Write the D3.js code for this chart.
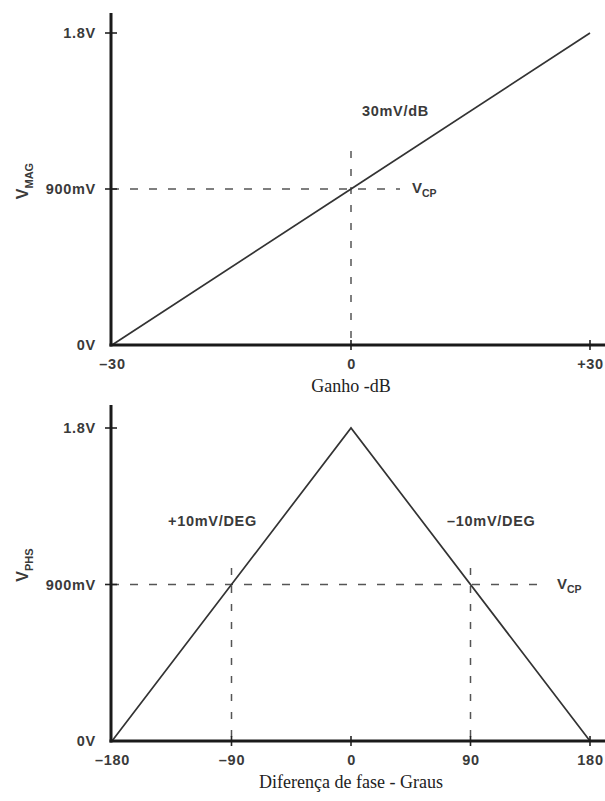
<!DOCTYPE html>
<html>
<head>
<meta charset="utf-8">
<script src="https://cdn.jsdelivr.net/npm/d3@7"></script>
<style>
  html, body { margin: 0; padding: 0; background: #fff; }
  svg { display: block; }
  .tick-label { font-family: "Liberation Sans", Arial, sans-serif; font-weight: bold; font-size: 14.5px; fill: #3a3a3a; letter-spacing: 0.7px; }
  .title { font-family: "Liberation Serif", "DejaVu Serif", serif; font-size: 18px; fill: #222; }
</style>
</head>
<body>
<svg id="chart" width="605" height="801"></svg>
<script>
// Magnitude output vs gain
const gainDb = [-30, 0, 30];
const vmag = [0, 0.9, 1.8];
// Phase output vs phase difference
const phaseDeg = [-180, 0, 180];
const vphs = [0, 1.8, 0];

const vcp = 0.9;
const gainCross = [0];
const phaseCross = [-90, 90];

const voltTicks = [0, 0.9, 1.8];
const voltTickLabels = ["0V", "900mV", "1.8V"];
const gainTicks = [-30, 0, 30];
const gainTickLabels = ["\u201330", "0", "+30"];
const phaseTicks = [-180, -90, 0, 90, 180];
const phaseTickLabels = ["\u2013180", "\u201390", "0", "90", "180"];

const svg = d3.select("#chart");

function panel(opt) {
  const g = svg.append("g");
  const x = d3.scaleLinear().domain(opt.xDomain).range([112, 590]);
  const y = d3.scaleLinear().domain([0, 1.8]).range([opt.yBottom, opt.yTop]);
  const axisX = 111;

  // dashed reference lines at Vcp
  g.append("line")
    .attr("x1", axisX).attr("x2", opt.hDashEnd)
    .attr("y1", y(vcp)).attr("y2", y(vcp))
    .attr("stroke", "#555").attr("stroke-width", 1.5)
    .attr("stroke-dasharray", "8,11");
  opt.cross.forEach(c => {
    g.append("line")
      .attr("x1", x(c)).attr("x2", x(c))
      .attr("y1", opt.vDashTop).attr("y2", y(0))
      .attr("stroke", "#555").attr("stroke-width", 1.5)
      .attr("stroke-dasharray", "7,11");
  });

  // transfer characteristic
  const line = d3.line().x(d => x(d[0])).y(d => y(d[1]));
  g.append("path")
    .datum(d3.zip(opt.xs, opt.ys))
    .attr("d", line)
    .attr("fill", "none")
    .attr("stroke", "#333")
    .attr("stroke-width", 1.7);

  // y axis: labels from d3 axis, cross ticks drawn at scale positions
  const ya = g.append("g").attr("transform", `translate(${axisX},0)`)
    .call(d3.axisLeft(y).tickValues(voltTicks)
      .tickFormat((d, i) => voltTickLabels[i]).tickSize(0).tickPadding(15));
  ya.select(".domain").remove();
  ya.selectAll("text").attr("class", "tick-label").attr("font-size", null).attr("font-family", null);
  voltTicks.filter(v => v > 0).forEach(v => {
    g.append("line").attr("x1", axisX - 6).attr("x2", axisX + 6)
      .attr("y1", y(v)).attr("y2", y(v)).attr("stroke", "#222").attr("stroke-width", 1.6);
  });

  // x axis
  const xa = g.append("g").attr("transform", `translate(0,${y(0)})`)
    .call(d3.axisBottom(x).tickValues(opt.xTicks)
      .tickFormat((d, i) => opt.xTickLabels[i]).tickSize(0).tickPadding(14));
  xa.select(".domain").remove();
  xa.selectAll("text").attr("class", "tick-label").attr("font-size", null).attr("font-family", null);
  opt.xTicks.slice(1).forEach(v => {
    g.append("line").attr("x1", x(v)).attr("x2", x(v))
      .attr("y1", y(0) - 5).attr("y2", y(0) + 5).attr("stroke", "#222").attr("stroke-width", 1.6);
  });

  // axis lines
  g.append("line").attr("x1", axisX).attr("x2", axisX)
    .attr("y1", opt.axisTop).attr("y2", y(0) + 1.5)
    .attr("stroke", "#1a1a1a").attr("stroke-width", 3);
  g.append("line").attr("x1", axisX - 1.5).attr("x2", 605)
    .attr("y1", y(0)).attr("y2", y(0))
    .attr("stroke", "#1a1a1a").attr("stroke-width", 3);

  // axis title
  g.append("text").attr("class", "title")
    .attr("x", x(0)).attr("y", y(0) + 47)
    .attr("text-anchor", "middle").text(opt.xTitle);

  // rotated y label with subscript
  const yl = g.append("text")
    .attr("transform", `translate(28,${opt.yLabelY}) rotate(-90)`)
    .attr("text-anchor", "middle")
    .attr("font-family", "Liberation Sans, Arial, sans-serif")
    .attr("font-weight", "bold").attr("fill", "#3a3a3a");
  yl.append("tspan").attr("font-size", 16).text("V");
  yl.append("tspan").attr("font-size", 11).attr("dy", 5).text(opt.ySub);

  // Vcp label
  const vl = g.append("text")
    .attr("x", opt.vcpX).attr("y", y(vcp) + 4)
    .attr("font-family", "Liberation Sans, Arial, sans-serif")
    .attr("font-weight", "bold").attr("fill", "#3a3a3a");
  vl.append("tspan").attr("font-size", 15).text("V");
  vl.append("tspan").attr("font-size", 10.5).attr("dy", 4).text("CP");

  // slope annotations
  opt.notes.forEach(n => {
    g.append("text").attr("class", "tick-label")
      .attr("x", n.x).attr("y", n.y).text(n.text);
  });
}

panel({
  xDomain: [-30, 30], xs: gainDb, ys: vmag,
  yTop: 33, yBottom: 345, axisTop: 13,
  xTicks: gainTicks, xTickLabels: gainTickLabels,
  cross: gainCross, vDashTop: 151, hDashEnd: 400,
  xTitle: "Ganho -dB", ySub: "MAG", yLabelY: 181,
  vcpX: 412,
  notes: [{ x: 362, y: 116, text: "30mV/dB" }]
});

panel({
  xDomain: [-180, 180], xs: phaseDeg, ys: vphs,
  yTop: 428, yBottom: 741, axisTop: 405,
  xTicks: phaseTicks, xTickLabels: phaseTickLabels,
  cross: phaseCross, vDashTop: 568, hDashEnd: 548,
  xTitle: "Diferen\u00e7a de fase - Graus", ySub: "PHS", yLabelY: 565,
  vcpX: 557,
  notes: [
    { x: 168, y: 526, text: "+10mV/DEG" },
    { x: 447, y: 526, text: "\u201310mV/DEG" }
  ]
});
</script>
</body>
</html>
